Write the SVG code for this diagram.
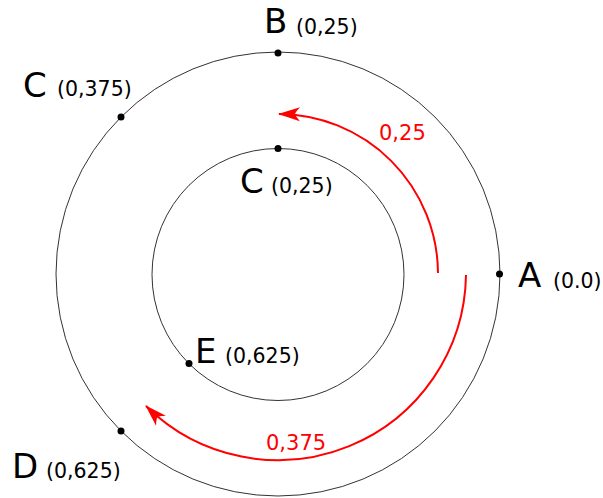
<svg xmlns="http://www.w3.org/2000/svg" width="603" height="498" viewBox="0 0 603 498">
<style>
  text { font-family: "DejaVu Sans", "Liberation Sans", sans-serif; }
  .big { font-size: 34px; fill: #000; }
  .small { font-size: 20.5px; fill: #000; }
  .red { font-size: 21px; fill: #ff0000; }
  .ring { fill: none; stroke: #333; stroke-width: 1; }
  .arc { fill: none; stroke: #ff0000; stroke-width: 2; marker-end: url(#arr); }
  .dot { fill: #000; }
</style>
<defs>
  <marker id="arr" markerUnits="userSpaceOnUse" markerWidth="30" markerHeight="20" viewBox="-25 -10 30 20" refX="0" refY="0" orient="auto" overflow="visible">
    <path d="M 1 0 L -21 -7 Q -16 -1.5 -16 0 Q -16 1.5 -21 7 Z" fill="#ff0000"/>
  </marker>
</defs>
<rect width="603" height="498" fill="#fff"/>
<g id="circles">
  <circle class="ring" cx="278" cy="274" r="222"/>
  <circle class="ring" cx="278" cy="274.5" r="126"/>
</g>
<g id="connectors">
  <path class="arc" d="M 438 273 A 160 160 0 0 0 279 114"/>
  <path class="arc" d="M 466 275 A 188 188 0 0 1 146 406"/>
  <text class="red" x="379" y="140">0,25</text>
  <text class="red" x="266" y="450">0,375</text>
</g>
<g id="nodeA">
  <circle class="dot" cx="499.5" cy="274" r="3.5"/>
  <text class="big" x="518" y="287">A</text>
  <text class="small" x="553" y="288">(0.0)</text>
</g>
<g id="nodeB">
  <circle class="dot" cx="278" cy="53" r="3.5"/>
  <text class="big" x="264" y="33">B</text>
  <text class="small" x="296" y="34">(0,25)</text>
</g>
<g id="nodeC_outer">
  <circle class="dot" cx="121" cy="117" r="3.5"/>
  <text class="big" x="23" y="97">C</text>
  <text class="small" x="57" y="96">(0,375)</text>
</g>
<g id="nodeC_inner">
  <circle class="dot" cx="278" cy="148.5" r="3.5"/>
  <text class="big" x="240" y="193">C</text>
  <text class="small" x="271" y="193">(0,25)</text>
</g>
<g id="nodeD">
  <circle class="dot" cx="121" cy="431" r="3.5"/>
  <text class="big" x="12" y="478">D</text>
  <text class="small" x="46" y="478">(0,625)</text>
</g>
<g id="nodeE">
  <circle class="dot" cx="189" cy="363.5" r="3.5"/>
  <text class="big" x="195" y="363">E</text>
  <text class="small" x="225" y="363">(0,625)</text>
</g>
</svg>
